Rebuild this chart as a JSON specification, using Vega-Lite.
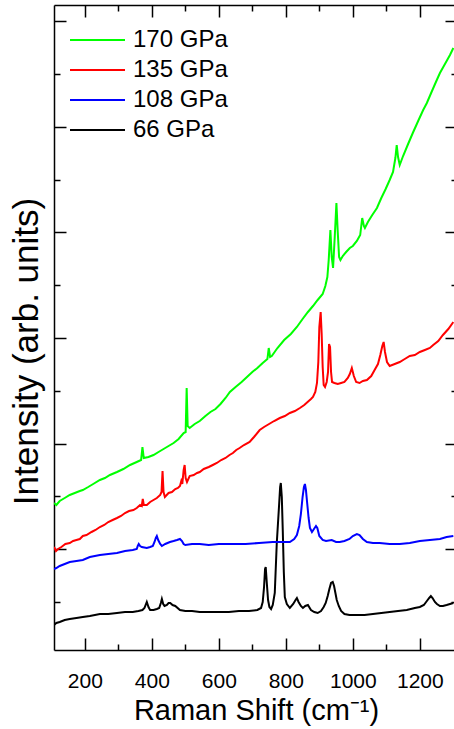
{
"$schema": "https://vega.github.io/schema/vega-lite/v6.json",
"width": 400, "height": 645,
"autosize": {"type": "none"},
"padding": {"left": 54, "top": 5, "right": 0, "bottom": 79},
"background": "white",
"config": {"view": {"stroke": null}, "font": "Liberation Sans",
  "axis": {"grid": false, "domainColor": "black", "tickColor": "black", "domainWidth": 1.5, "tickWidth": 1.5, "labelColor": "black", "titleColor": "black", "labelFont": "Liberation Sans", "titleFont": "Liberation Sans", "titleFontWeight": "normal"}},
"data": {"values": [
{"s":"66 GPa","x":108,"y":-23},{"s":"66 GPa","x":115,"y":-21},{"s":"66 GPa","x":125,"y":-20},{"s":"66 GPa","x":140,"y":-18},{"s":"66 GPa","x":155,"y":-17},{"s":"66 GPa","x":175,"y":-16},{"s":"66 GPa","x":194,"y":-15},{"s":"66 GPa","x":215,"y":-14},{"s":"66 GPa","x":245,"y":-12},{"s":"66 GPa","x":270,"y":-12},{"s":"66 GPa","x":296,"y":-11},{"s":"66 GPa","x":320,"y":-10},{"s":"66 GPa","x":343,"y":-10},{"s":"66 GPa","x":360,"y":-9},{"s":"66 GPa","x":372,"y":-8},{"s":"66 GPa","x":378,"y":-6},{"s":"66 GPa","x":385,"y":0},{"s":"66 GPa","x":390,"y":-5},{"s":"66 GPa","x":395,"y":-8},{"s":"66 GPa","x":405,"y":-8},{"s":"66 GPa","x":415,"y":-7},{"s":"66 GPa","x":422,"y":-6},{"s":"66 GPa","x":427,"y":-1},{"s":"66 GPa","x":430,"y":3},{"s":"66 GPa","x":434,"y":-2},{"s":"66 GPa","x":438,"y":-4},{"s":"66 GPa","x":445,"y":-3},{"s":"66 GPa","x":450,"y":-1},{"s":"66 GPa","x":455,"y":-1},{"s":"66 GPa","x":462,"y":-3},{"s":"66 GPa","x":470,"y":-4},{"s":"66 GPa","x":484,"y":-8},{"s":"66 GPa","x":500,"y":-9},{"s":"66 GPa","x":520,"y":-9},{"s":"66 GPa","x":543,"y":-10},{"s":"66 GPa","x":570,"y":-10},{"s":"66 GPa","x":600,"y":-10},{"s":"66 GPa","x":630,"y":-10},{"s":"66 GPa","x":660,"y":-9},{"s":"66 GPa","x":690,"y":-9},{"s":"66 GPa","x":715,"y":-8},{"s":"66 GPa","x":726,"y":-6},{"s":"66 GPa","x":731,"y":0},{"s":"66 GPa","x":735,"y":15},{"s":"66 GPa","x":738,"y":33},{"s":"66 GPa","x":740,"y":35},{"s":"66 GPa","x":743,"y":20},{"s":"66 GPa","x":747,"y":2},{"s":"66 GPa","x":751,"y":-5},{"s":"66 GPa","x":756,"y":-7},{"s":"66 GPa","x":761,"y":-3},{"s":"66 GPa","x":767,"y":9},{"s":"66 GPa","x":773,"y":59},{"s":"66 GPa","x":779,"y":92},{"s":"66 GPa","x":783,"y":115},{"s":"66 GPa","x":785,"y":119},{"s":"66 GPa","x":788,"y":105},{"s":"66 GPa","x":791,"y":70},{"s":"66 GPa","x":794,"y":30},{"s":"66 GPa","x":797,"y":5},{"s":"66 GPa","x":803,"y":-2},{"s":"66 GPa","x":812,"y":-6},{"s":"66 GPa","x":822,"y":-2},{"s":"66 GPa","x":829,"y":2},{"s":"66 GPa","x":833,"y":4},{"s":"66 GPa","x":838,"y":0},{"s":"66 GPa","x":845,"y":-4},{"s":"66 GPa","x":851,"y":-6},{"s":"66 GPa","x":858,"y":-4},{"s":"66 GPa","x":866,"y":-3},{"s":"66 GPa","x":875,"y":-8},{"s":"66 GPa","x":885,"y":-10},{"s":"66 GPa","x":895,"y":-11},{"s":"66 GPa","x":905,"y":-9},{"s":"66 GPa","x":913,"y":-5},{"s":"66 GPa","x":919,"y":-1},{"s":"66 GPa","x":925,"y":6},{"s":"66 GPa","x":930,"y":13},{"s":"66 GPa","x":935,"y":19},{"s":"66 GPa","x":940,"y":20},{"s":"66 GPa","x":944,"y":16},{"s":"66 GPa","x":948,"y":9},{"s":"66 GPa","x":952,"y":2},{"s":"66 GPa","x":958,"y":-4},{"s":"66 GPa","x":965,"y":-9},{"s":"66 GPa","x":975,"y":-12},{"s":"66 GPa","x":990,"y":-13},{"s":"66 GPa","x":1012,"y":-13},{"s":"66 GPa","x":1035,"y":-13},{"s":"66 GPa","x":1060,"y":-12},{"s":"66 GPa","x":1085,"y":-11},{"s":"66 GPa","x":1110,"y":-10},{"s":"66 GPa","x":1135,"y":-9},{"s":"66 GPa","x":1161,"y":-8},{"s":"66 GPa","x":1185,"y":-6},{"s":"66 GPa","x":1200,"y":-5},{"s":"66 GPa","x":1212,"y":-3},{"s":"66 GPa","x":1221,"y":1},{"s":"66 GPa","x":1228,"y":4},{"s":"66 GPa","x":1233,"y":6},{"s":"66 GPa","x":1238,"y":4},{"s":"66 GPa","x":1245,"y":0},{"s":"66 GPa","x":1251,"y":-2},{"s":"66 GPa","x":1260,"y":-4},{"s":"66 GPa","x":1269,"y":-4},{"s":"66 GPa","x":1280,"y":-3},{"s":"66 GPa","x":1290,"y":-2},{"s":"66 GPa","x":1300,"y":-1},
{"s":"108 GPa","x":108,"y":33},{"s":"108 GPa","x":115,"y":34},{"s":"108 GPa","x":125,"y":36},{"s":"108 GPa","x":140,"y":38},{"s":"108 GPa","x":155,"y":40},{"s":"108 GPa","x":175,"y":41},{"s":"108 GPa","x":194,"y":42},{"s":"108 GPa","x":215,"y":45},{"s":"108 GPa","x":245,"y":47},{"s":"108 GPa","x":270,"y":48},{"s":"108 GPa","x":296,"y":49},{"s":"108 GPa","x":320,"y":51},{"s":"108 GPa","x":343,"y":52},{"s":"108 GPa","x":355,"y":53},{"s":"108 GPa","x":358,"y":56},{"s":"108 GPa","x":361,"y":58},{"s":"108 GPa","x":365,"y":56},{"s":"108 GPa","x":370,"y":55},{"s":"108 GPa","x":385,"y":54},{"s":"108 GPa","x":395,"y":55},{"s":"108 GPa","x":403,"y":56},{"s":"108 GPa","x":408,"y":60},{"s":"108 GPa","x":412,"y":64},{"s":"108 GPa","x":415,"y":66},{"s":"108 GPa","x":419,"y":62},{"s":"108 GPa","x":425,"y":58},{"s":"108 GPa","x":430,"y":56},{"s":"108 GPa","x":440,"y":58},{"s":"108 GPa","x":454,"y":60},{"s":"108 GPa","x":465,"y":61},{"s":"108 GPa","x":475,"y":62},{"s":"108 GPa","x":484,"y":63},{"s":"108 GPa","x":490,"y":61},{"s":"108 GPa","x":495,"y":58},{"s":"108 GPa","x":500,"y":57},{"s":"108 GPa","x":520,"y":58},{"s":"108 GPa","x":543,"y":58},{"s":"108 GPa","x":570,"y":57},{"s":"108 GPa","x":600,"y":58},{"s":"108 GPa","x":642,"y":58},{"s":"108 GPa","x":680,"y":58},{"s":"108 GPa","x":720,"y":59},{"s":"108 GPa","x":761,"y":60},{"s":"108 GPa","x":790,"y":60},{"s":"108 GPa","x":812,"y":60},{"s":"108 GPa","x":825,"y":63},{"s":"108 GPa","x":833,"y":67},{"s":"108 GPa","x":840,"y":76},{"s":"108 GPa","x":845,"y":88},{"s":"108 GPa","x":850,"y":105},{"s":"108 GPa","x":854,"y":115},{"s":"108 GPa","x":857,"y":118},{"s":"108 GPa","x":860,"y":112},{"s":"108 GPa","x":864,"y":98},{"s":"108 GPa","x":868,"y":84},{"s":"108 GPa","x":872,"y":74},{"s":"108 GPa","x":878,"y":70},{"s":"108 GPa","x":884,"y":73},{"s":"108 GPa","x":890,"y":76},{"s":"108 GPa","x":894,"y":74},{"s":"108 GPa","x":900,"y":66},{"s":"108 GPa","x":910,"y":62},{"s":"108 GPa","x":920,"y":61},{"s":"108 GPa","x":937,"y":62},{"s":"108 GPa","x":950,"y":60},{"s":"108 GPa","x":961,"y":60},{"s":"108 GPa","x":975,"y":61},{"s":"108 GPa","x":990,"y":63},{"s":"108 GPa","x":1000,"y":66},{"s":"108 GPa","x":1012,"y":68},{"s":"108 GPa","x":1020,"y":67},{"s":"108 GPa","x":1030,"y":63},{"s":"108 GPa","x":1042,"y":60},{"s":"108 GPa","x":1060,"y":59},{"s":"108 GPa","x":1080,"y":59},{"s":"108 GPa","x":1110,"y":58},{"s":"108 GPa","x":1140,"y":58},{"s":"108 GPa","x":1170,"y":59},{"s":"108 GPa","x":1200,"y":61},{"s":"108 GPa","x":1230,"y":62},{"s":"108 GPa","x":1260,"y":63},{"s":"108 GPa","x":1280,"y":65},{"s":"108 GPa","x":1300,"y":66},
{"s":"135 GPa","x":108,"y":55},{"s":"135 GPa","x":114,"y":51},{"s":"135 GPa","x":120,"y":53},{"s":"135 GPa","x":130,"y":55},{"s":"135 GPa","x":142,"y":58},{"s":"135 GPa","x":155,"y":59},{"s":"135 GPa","x":165,"y":61},{"s":"135 GPa","x":175,"y":62},{"s":"135 GPa","x":185,"y":63},{"s":"135 GPa","x":194,"y":66},{"s":"135 GPa","x":205,"y":67},{"s":"135 GPa","x":220,"y":70},{"s":"135 GPa","x":232,"y":72},{"s":"135 GPa","x":245,"y":75},{"s":"135 GPa","x":258,"y":77},{"s":"135 GPa","x":270,"y":80},{"s":"135 GPa","x":283,"y":82},{"s":"135 GPa","x":296,"y":84},{"s":"135 GPa","x":308,"y":86},{"s":"135 GPa","x":320,"y":89},{"s":"135 GPa","x":332,"y":91},{"s":"135 GPa","x":345,"y":92},{"s":"135 GPa","x":355,"y":94},{"s":"135 GPa","x":365,"y":97},{"s":"135 GPa","x":370,"y":96},{"s":"135 GPa","x":373,"y":103},{"s":"135 GPa","x":376,"y":97},{"s":"135 GPa","x":385,"y":97},{"s":"135 GPa","x":395,"y":100},{"s":"135 GPa","x":405,"y":102},{"s":"135 GPa","x":415,"y":104},{"s":"135 GPa","x":425,"y":107},{"s":"135 GPa","x":429,"y":110},{"s":"135 GPa","x":432,"y":131},{"s":"135 GPa","x":435,"y":110},{"s":"135 GPa","x":439,"y":105},{"s":"135 GPa","x":450,"y":109},{"s":"135 GPa","x":460,"y":110},{"s":"135 GPa","x":470,"y":113},{"s":"135 GPa","x":478,"y":114},{"s":"135 GPa","x":484,"y":116},{"s":"135 GPa","x":488,"y":121},{"s":"135 GPa","x":491,"y":118},{"s":"135 GPa","x":495,"y":132},{"s":"135 GPa","x":498,"y":137},{"s":"135 GPa","x":501,"y":124},{"s":"135 GPa","x":505,"y":120},{"s":"135 GPa","x":513,"y":126},{"s":"135 GPa","x":525,"y":127},{"s":"135 GPa","x":535,"y":129},{"s":"135 GPa","x":543,"y":130},{"s":"135 GPa","x":555,"y":133},{"s":"135 GPa","x":570,"y":135},{"s":"135 GPa","x":582,"y":137},{"s":"135 GPa","x":594,"y":139},{"s":"135 GPa","x":607,"y":142},{"s":"135 GPa","x":620,"y":144},{"s":"135 GPa","x":632,"y":147},{"s":"135 GPa","x":642,"y":149},{"s":"135 GPa","x":652,"y":152},{"s":"135 GPa","x":662,"y":154},{"s":"135 GPa","x":675,"y":157},{"s":"135 GPa","x":692,"y":160},{"s":"135 GPa","x":705,"y":165},{"s":"135 GPa","x":722,"y":172},{"s":"135 GPa","x":735,"y":175},{"s":"135 GPa","x":750,"y":178},{"s":"135 GPa","x":765,"y":181},{"s":"135 GPa","x":782,"y":184},{"s":"135 GPa","x":797,"y":186},{"s":"135 GPa","x":812,"y":189},{"s":"135 GPa","x":827,"y":191},{"s":"135 GPa","x":842,"y":194},{"s":"135 GPa","x":855,"y":197},{"s":"135 GPa","x":865,"y":200},{"s":"135 GPa","x":875,"y":203},{"s":"135 GPa","x":881,"y":205},{"s":"135 GPa","x":888,"y":210},{"s":"135 GPa","x":893,"y":219},{"s":"135 GPa","x":897,"y":240},{"s":"135 GPa","x":900,"y":275},{"s":"135 GPa","x":904,"y":290},{"s":"135 GPa","x":907,"y":268},{"s":"135 GPa","x":910,"y":235},{"s":"135 GPa","x":913,"y":217},{"s":"135 GPa","x":917,"y":215},{"s":"135 GPa","x":922,"y":220},{"s":"135 GPa","x":926,"y":230},{"s":"135 GPa","x":929,"y":258},{"s":"135 GPa","x":932,"y":255},{"s":"135 GPa","x":935,"y":230},{"s":"135 GPa","x":938,"y":220},{"s":"135 GPa","x":945,"y":219},{"s":"135 GPa","x":955,"y":218},{"s":"135 GPa","x":965,"y":219},{"s":"135 GPa","x":975,"y":220},{"s":"135 GPa","x":985,"y":224},{"s":"135 GPa","x":991,"y":228},{"s":"135 GPa","x":997,"y":234},{"s":"135 GPa","x":1003,"y":226},{"s":"135 GPa","x":1010,"y":220},{"s":"135 GPa","x":1020,"y":219},{"s":"135 GPa","x":1030,"y":221},{"s":"135 GPa","x":1042,"y":222},{"s":"135 GPa","x":1055,"y":226},{"s":"135 GPa","x":1065,"y":232},{"s":"135 GPa","x":1075,"y":238},{"s":"135 GPa","x":1082,"y":247},{"s":"135 GPa","x":1088,"y":256},{"s":"135 GPa","x":1092,"y":260},{"s":"135 GPa","x":1096,"y":250},{"s":"135 GPa","x":1102,"y":240},{"s":"135 GPa","x":1110,"y":236},{"s":"135 GPa","x":1125,"y":238},{"s":"135 GPa","x":1140,"y":240},{"s":"135 GPa","x":1155,"y":243},{"s":"135 GPa","x":1170,"y":246},{"s":"135 GPa","x":1185,"y":247},{"s":"135 GPa","x":1200,"y":250},{"s":"135 GPa","x":1215,"y":252},{"s":"135 GPa","x":1230,"y":254},{"s":"135 GPa","x":1240,"y":257},{"s":"135 GPa","x":1255,"y":261},{"s":"135 GPa","x":1269,"y":267},{"s":"135 GPa","x":1285,"y":273},{"s":"135 GPa","x":1300,"y":280},
{"s":"170 GPa","x":108,"y":99},{"s":"170 GPa","x":115,"y":97},{"s":"170 GPa","x":125,"y":101},{"s":"170 GPa","x":140,"y":104},{"s":"170 GPa","x":155,"y":107},{"s":"170 GPa","x":170,"y":109},{"s":"170 GPa","x":185,"y":111},{"s":"170 GPa","x":194,"y":112},{"s":"170 GPa","x":210,"y":115},{"s":"170 GPa","x":225,"y":118},{"s":"170 GPa","x":245,"y":122},{"s":"170 GPa","x":260,"y":124},{"s":"170 GPa","x":275,"y":127},{"s":"170 GPa","x":296,"y":130},{"s":"170 GPa","x":315,"y":133},{"s":"170 GPa","x":335,"y":137},{"s":"170 GPa","x":355,"y":140},{"s":"170 GPa","x":368,"y":142},{"s":"170 GPa","x":372,"y":155},{"s":"170 GPa","x":376,"y":144},{"s":"170 GPa","x":390,"y":145},{"s":"170 GPa","x":405,"y":147},{"s":"170 GPa","x":420,"y":150},{"s":"170 GPa","x":435,"y":153},{"s":"170 GPa","x":450,"y":156},{"s":"170 GPa","x":465,"y":159},{"s":"170 GPa","x":480,"y":163},{"s":"170 GPa","x":495,"y":169},{"s":"170 GPa","x":501,"y":170},{"s":"170 GPa","x":504,"y":214},{"s":"170 GPa","x":507,"y":176},{"s":"170 GPa","x":513,"y":174},{"s":"170 GPa","x":528,"y":178},{"s":"170 GPa","x":543,"y":181},{"s":"170 GPa","x":560,"y":186},{"s":"170 GPa","x":575,"y":190},{"s":"170 GPa","x":590,"y":193},{"s":"170 GPa","x":605,"y":198},{"s":"170 GPa","x":620,"y":204},{"s":"170 GPa","x":633,"y":210},{"s":"170 GPa","x":650,"y":215},{"s":"170 GPa","x":668,"y":220},{"s":"170 GPa","x":684,"y":225},{"s":"170 GPa","x":700,"y":230},{"s":"170 GPa","x":715,"y":234},{"s":"170 GPa","x":731,"y":239},{"s":"170 GPa","x":745,"y":243},{"s":"170 GPa","x":749,"y":254},{"s":"170 GPa","x":753,"y":245},{"s":"170 GPa","x":758,"y":246},{"s":"170 GPa","x":775,"y":254},{"s":"170 GPa","x":795,"y":262},{"s":"170 GPa","x":815,"y":268},{"s":"170 GPa","x":833,"y":275},{"s":"170 GPa","x":850,"y":283},{"s":"170 GPa","x":866,"y":290},{"s":"170 GPa","x":881,"y":296},{"s":"170 GPa","x":895,"y":302},{"s":"170 GPa","x":910,"y":308},{"s":"170 GPa","x":918,"y":316},{"s":"170 GPa","x":924,"y":325},{"s":"170 GPa","x":928,"y":342},{"s":"170 GPa","x":933,"y":372},{"s":"170 GPa","x":937,"y":345},{"s":"170 GPa","x":941,"y":334},{"s":"170 GPa","x":946,"y":365},{"s":"170 GPa","x":951,"y":399},{"s":"170 GPa","x":955,"y":370},{"s":"170 GPa","x":959,"y":345},{"s":"170 GPa","x":963,"y":342},{"s":"170 GPa","x":970,"y":346},{"s":"170 GPa","x":980,"y":350},{"s":"170 GPa","x":991,"y":354},{"s":"170 GPa","x":1000,"y":356},{"s":"170 GPa","x":1012,"y":361},{"s":"170 GPa","x":1022,"y":367},{"s":"170 GPa","x":1028,"y":384},{"s":"170 GPa","x":1033,"y":376},{"s":"170 GPa","x":1036,"y":374},{"s":"170 GPa","x":1045,"y":380},{"s":"170 GPa","x":1058,"y":387},{"s":"170 GPa","x":1072,"y":394},{"s":"170 GPa","x":1085,"y":404},{"s":"170 GPa","x":1098,"y":413},{"s":"170 GPa","x":1110,"y":422},{"s":"170 GPa","x":1120,"y":430},{"s":"170 GPa","x":1127,"y":444},{"s":"170 GPa","x":1131,"y":457},{"s":"170 GPa","x":1135,"y":445},{"s":"170 GPa","x":1140,"y":437},{"s":"170 GPa","x":1150,"y":446},{"s":"170 GPa","x":1165,"y":458},{"s":"170 GPa","x":1179,"y":469},{"s":"170 GPa","x":1195,"y":481},{"s":"170 GPa","x":1210,"y":492},{"s":"170 GPa","x":1221,"y":499},{"s":"170 GPa","x":1235,"y":510},{"s":"170 GPa","x":1248,"y":520},{"s":"170 GPa","x":1260,"y":529},{"s":"170 GPa","x":1275,"y":538},{"s":"170 GPa","x":1290,"y":547},{"s":"170 GPa","x":1300,"y":554}
]},
"layer": [
  {"mark": {"type": "line", "strokeWidth": 2, "clip": true},
   "encoding": {
     "x": {"field": "x", "type": "quantitative", "scale": {"domain": [108, 1302], "nice": false, "zero": false},
       "axis": {"orient": "bottom", "values": [200, 400, 600, 800, 1000, 1200], "format": "d", "tickSize": -12, "labelFontSize": 21, "labelPadding": 32, "title": "Raman Shift (cm⁻¹)", "titleFontSize": 29, "titleBaseline": "alphabetic", "titleY": 69.5, "titleX": 202}},
     "y": {"field": "y", "type": "quantitative", "scale": {"domain": [-48, 597], "nice": false, "zero": false},
       "axis": {"orient": "left", "values": [52.8, 158.4, 264, 369.6, 475.2, 580.8], "tickSize": -12, "labels": false, "title": "Intensity (arb. units)", "titleFontSize": 35, "titleBaseline": "alphabetic", "titleAngle": -90, "titleX": -17, "titleY": 346, "titleAlign": "center"}},
     "color": {"field": "s", "type": "nominal",
       "scale": {"domain": ["170 GPa", "135 GPa", "108 GPa", "66 GPa"], "range": ["#00ff00", "#ff0000", "#0000ff", "#000000"]},
       "legend": {"orient": "none", "legendX": 31.5, "legendY": 23, "title": null, "padding": 0, "symbolType": "M-10,0H10", "symbolSize": 30.25, "symbolStrokeWidth": 2, "labelFontSize": 24, "labelOffset": 23.5, "rowPadding": 6, "labelColor": "black", "labelFont": "Liberation Sans"}}
   }},
  {"mark": {"type": "point", "opacity": 0},
   "encoding": {
     "x": {"field": "x", "type": "quantitative", "scale": {"domain": [108, 1302], "nice": false, "zero": false},
       "axis": {"orient": "bottom", "values": [300, 500, 700, 900, 1100], "tickSize": -6, "labels": false, "domain": false, "title": null}},
     "y": {"field": "y", "type": "quantitative", "scale": {"domain": [-48, 597], "nice": false, "zero": false},
       "axis": {"orient": "left", "values": [0, 105.6, 211.2, 316.8, 422.4, 528], "tickSize": -6, "labels": false, "domain": false, "title": null}}
   }},
  {"mark": {"type": "point", "opacity": 0},
   "encoding": {
     "x": {"field": "x", "type": "quantitative", "scale": {"domain": [108, 1302], "nice": false, "zero": false},
       "axis": {"orient": "top", "values": [200, 400, 600, 800, 1000, 1200], "tickSize": -12, "labels": false, "title": null}},
     "y": {"field": "y", "type": "quantitative", "scale": {"domain": [-48, 597], "nice": false, "zero": false},
       "axis": {"orient": "right", "offset": 3, "values": [52.8, 158.4, 264, 369.6, 475.2, 580.8], "tickSize": -12, "labels": false, "title": null}}
   }},
  {"mark": {"type": "point", "opacity": 0},
   "encoding": {
     "x": {"field": "x", "type": "quantitative", "scale": {"domain": [108, 1302], "nice": false, "zero": false},
       "axis": {"orient": "top", "values": [300, 500, 700, 900, 1100], "tickSize": -6, "labels": false, "domain": false, "title": null}},
     "y": {"field": "y", "type": "quantitative", "scale": {"domain": [-48, 597], "nice": false, "zero": false},
       "axis": {"orient": "right", "offset": 3, "values": [0, 105.6, 211.2, 316.8, 422.4, 528], "tickSize": -6, "labels": false, "domain": false, "title": null}}
   }}
],
"resolve": {"axis": {"x": "independent", "y": "independent"}}
}
